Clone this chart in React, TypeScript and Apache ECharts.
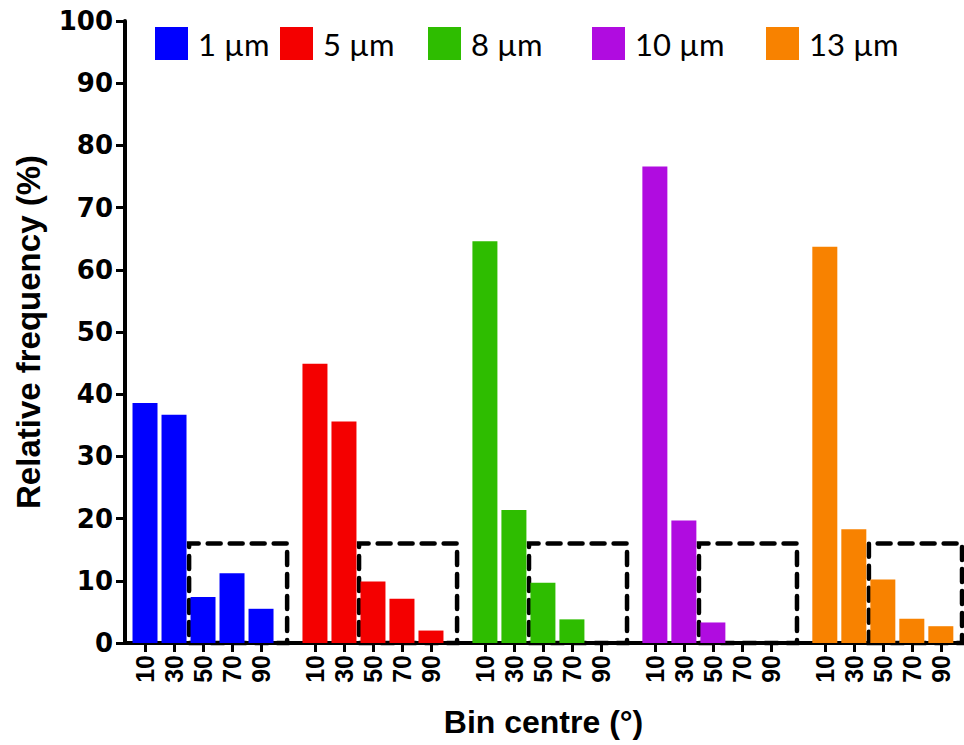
import React, { useEffect, useRef } from "react";
import * as echarts from "echarts";

const bins = ["10", "30", "50", "70", "90"];
const sizes = ["1 µm", "5 µm", "8 µm", "10 µm", "13 µm"];
const values1 = [38.6, 36.7, 7.4, 11.2, 5.5];
const values5 = [44.9, 35.6, 9.9, 7.1, 2.0];
const values8 = [64.6, 21.4, 9.7, 3.8, 0];
const values10 = [76.6, 19.7, 3.3, 0, 0];
const values13 = [63.7, 18.3, 10.2, 3.9, 2.7];
const colors = ["#0000ff", "#f40000", "#2ebd00", "#b00ce0", "#f88200"];
const boxTop = 16;

const allValues = [values1, values5, values8, values10, values13];
const legendLeft = [155, 280, 428, 592, 766];

// layout: one unit = spacing of bins within a group
const offset = 0.69;
const stride = 5.86;
const pos = (g: number, b: number) => offset + g * stride + b;

export default function App() {
  const ref = useRef<HTMLDivElement>(null);
  useEffect(() => {
    const chart = echarts.init(ref.current!, null, { renderer: "svg" });
    const tickVals: number[] = [];
    sizes.forEach((_, g) => bins.forEach((_, b) => tickVals.push(pos(g, b))));
    const labelFor = (v: number) => {
      let best = 0;
      let bd = Infinity;
      tickVals.forEach((t, i) => {
        const d = Math.abs(t - v);
        if (d < bd) {
          bd = d;
          best = i;
        }
      });
      return bins[best % bins.length];
    };
    const series = sizes.map((name, g) => ({
      name,
      type: "bar",
      barWidth: 25,
      barGap: "-100%",
      itemStyle: { color: colors[g] },
      data: allValues[g].map((v, b) => [pos(g, b), v]),
      markArea: {
        silent: true,
        itemStyle: {
          color: "rgba(0,0,0,0)",
          borderColor: "#000",
          borderWidth: 4.5,
          borderType: [13, 9],
          borderCap: "round",
        },
        data: [
          [
            { xAxis: pos(g, 2) - 0.48, yAxis: 0 },
            { xAxis: pos(g, 4) + 0.9, yAxis: boxTop },
          ],
        ],
      },
    }));
    chart.setOption({
      animation: false,
      color: colors,
      legend: sizes.map((name, g) => ({
        data: [name],
        left: legendLeft[g],
        top: 27,
        padding: 0,
        icon: "rect",
        itemWidth: 33,
        itemHeight: 33,
        textStyle: {
          fontFamily: "Lato",
          fontSize: 31,
          color: "#000",
          padding: [0, 0, 0, 5],
        },
      })),
      grid: { left: 125, right: 2, top: 21, bottom: 102, outerBoundsMode: "none" },
      xAxis: {
        type: "value",
        min: 0,
        max: 28.86,
        splitLine: { show: false },
        axisLine: { show: true, lineStyle: { color: "#000", width: 4 } },
        axisTick: {
          show: true,
          customValues: tickVals,
          length: 9,
          lineStyle: { color: "#000", width: 3 },
        },
        axisLabel: {
          customValues: tickVals,
          rotate: 90,
          margin: 12,
          formatter: (v: number) => labelFor(v),
          fontFamily: "Liberation Sans",
          fontWeight: "bold",
          fontSize: 25,
          color: "#000",
        },
        name: "Bin centre (°)",
        nameLocation: "middle",
        nameGap: 63,
        nameTextStyle: {
          fontFamily: "Liberation Sans",
          fontWeight: "bold",
          fontSize: 32,
          color: "#000",
        },
      },
      yAxis: {
        type: "value",
        min: 0,
        max: 100,
        interval: 10,
        splitLine: { show: false },
        axisLine: { show: true, lineStyle: { color: "#000", width: 4 } },
        axisTick: { show: true, length: 9, lineStyle: { color: "#000", width: 3 } },
        axisLabel: {
          margin: 12,
          fontFamily: "DejaVu Sans",
          fontWeight: "bold",
          fontSize: 26,
          color: "#000",
        },
        name: "Relative frequency (%)",
        nameLocation: "middle",
        nameGap: 80,
        nameTextStyle: {
          fontFamily: "Liberation Sans",
          fontWeight: "bold",
          fontSize: 33,
          color: "#000",
        },
      },
      series,
    });
    return () => chart.dispose();
  }, []);
  return <div ref={ref} style={{ width: 964, height: 745, position: "absolute", left: 0, top: 0 }} />;
}
